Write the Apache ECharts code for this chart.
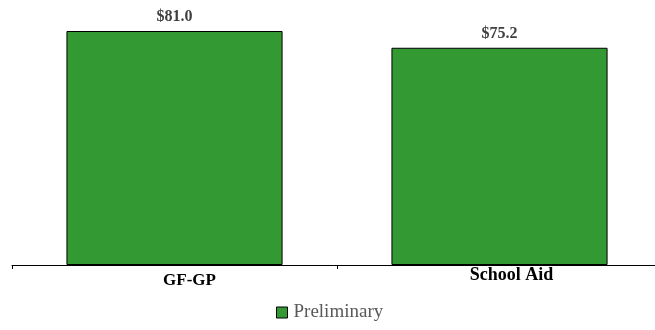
<!DOCTYPE html>
<html>
<head>
<meta charset="utf-8">
<script src="https://cdn.jsdelivr.net/npm/echarts@6/dist/echarts.min.js"></script>
<style>
  html, body { margin: 0; padding: 0; background: #fff; }
  #main { width: 655px; height: 330px; }
</style>
</head>
<body>
<div id="main"></div>
<script>
// data
var categories = ['GF-GP', 'School Aid'];
var preliminary = [81.0, 75.2];
var seriesName = 'Preliminary';

var chart = echarts.init(document.getElementById('main'), null, { renderer: 'canvas' });

var serif = '"Liberation Serif", "Times New Roman", serif';

var option = {
  animation: false,
  grid: { left: 12, top: 5, width: 650, bottom: 65, outerBoundsMode: 'none', containLabel: false },
  legend: {
    data: [seriesName],
    top: 303,
    left: 276,
    padding: 0,
    icon: 'rect',
    itemWidth: 11,
    itemHeight: 11,
    itemGap: 4,
    itemStyle: { borderColor: '#000', borderWidth: 1 },
    textStyle: { fontFamily: serif, fontSize: 19, color: '#595959', padding: [0, 0, 0, 1] }
  },
  xAxis: {
    type: 'category',
    data: [
      { value: categories[0], textStyle: { fontSize: 17, padding: [6, 0, 0, 30] } },
      { value: categories[1], textStyle: { fontSize: 18, padding: [0, 0, 0, 24] } }
    ],
    axisLine: { lineStyle: { color: '#000', width: 1 } },
    axisTick: { show: true, length: 4, lineStyle: { color: '#000' } },
    axisLabel: { fontFamily: serif, fontWeight: 'bold', color: '#000', margin: 1 }
  },
  yAxis: {
    type: 'value',
    min: 0,
    max: 90,
    show: false,
    splitLine: { show: false }
  },
  series: [{
    name: seriesName,
    type: 'bar',
    data: preliminary,
    barWidth: '66.5%',
    itemStyle: { color: '#339933', borderColor: '#000', borderWidth: 1 },
    label: {
      show: true,
      position: 'top',
      distance: 6,
      fontFamily: serif,
      fontWeight: 'bold',
      fontSize: 16,
      color: '#404040',
      formatter: function (p) { return '$' + p.value.toFixed(1); }
    }
  }]
};

chart.setOption(option);
</script>
</body>
</html>
